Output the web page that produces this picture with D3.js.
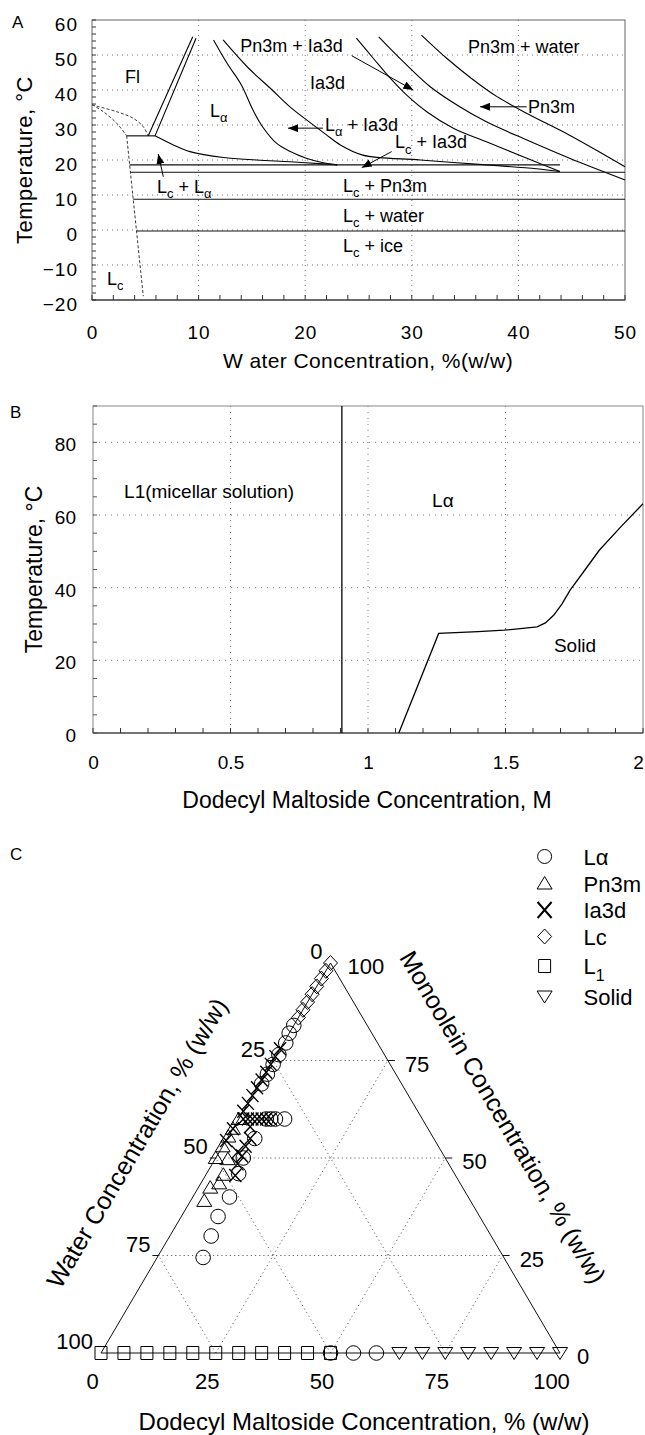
<!DOCTYPE html>
<html><head><meta charset="utf-8">
<script src="https://cdn.jsdelivr.net/npm/d3@7"></script>
<style>
body{margin:0;background:#fff;}
svg{display:block;font-family:"Liberation Sans",Arial,Helvetica,sans-serif;}
</style></head><body>
<svg id="chart" width="645" height="1435"></svg>
<script>
// ================= DATA =================
// ---- Panel A: monoolein / water phase diagram ----
const aXTicks = [0,10,20,30,40,50];
const aYTicks = [60,50,40,30,20,10,0,-10,-20];
const aGridX = [10,20,30,40];
const aGridY = [50,40,30,20,10,0,-10];
const aDashUpper = [[0,35.8],[0.44,35.4],[2.32,33.8],[3.88,31.9],[4.81,29.5],[5.28,26.9]];
const aDashLower = [[0,35.8],[1.06,33.8],[2.32,30.5],[3.25,26.9]];
const aDashLc = [[3.25,26.9],[4.81,-18.9]];
const aFlLeft = [[5.28,26.9],[9.45,55.2]];
const aFlRight = [[5.91,26.9],[9.76,54.8]];
const aLcPlateau = [[3.25,26.9],[5.91,26.9]];
const aLcLaTop = [[5.91,26.9],[7.63,24.3],[9.19,22.4],[12.32,20.7],[15.45,20.0],[18.57,19.5],[21.7,18.9],[23.0,18.6]];
const aCurve1 = [[11.4,54.3],[12.7,47.5],[14.0,41.5],[15.1,34.3],[16.0,29.5],[17.3,24.8],[18.6,22.4],[20.1,20.5],[21.7,19.2],[23.0,18.6]];
const aCurve2 = [[12.3,54.3],[14.6,46.5],[16.9,40.0],[18.6,35.1],[20.5,30.6],[21.9,27.4],[23.3,24.3],[25.4,21.4],[30.8,20.0],[37.0,18.6],[41.7,17.5],[43.9,16.7]];
const aCurve3 = [[24.8,54.8],[26.4,49.0],[28.0,43.3],[29.5,38.6],[31.4,33.8],[33.9,29.1],[37.0,25.2],[40.8,20.5],[43.9,16.7]];
const aCurve4 = [[26.9,55.2],[29.2,48.1],[31.7,41.0],[34.5,35.2],[37.0,30.9],[40.8,25.7],[44.8,20.5],[50.0,14.3]];
const aCurve5 = [[30.9,55.7],[33.3,49.0],[35.6,43.3],[38.0,38.1],[40.8,33.3],[44.8,27.1],[50.0,18.1]];
const aHLineT = [18.6,16.5,8.8,-0.3];
const aHLineFrom = [3.53,3.60,3.87,4.18];
const aHLineTo = [43.9,50,50,50];
const aLabelText = ["Fl","L_α","Pn3m + Ia3d","Ia3d","Pn3m + water","Pn3m","L_α + Ia3d","L_c + Ia3d","L_c + L_α","L_c + Pn3m","L_c + water","L_c + ice","L_c"];
const aLabelX = [3.1,11.07,13.9,20.45,35.27,40.9,21.86,28.42,6.1,23.55,23.55,23.55,1.4];
const aLabelT = [42,32.3,50.9,40.3,50.6,33.4,28.3,23.4,10.6,10.9,2.3,-6.3,-15.7];
const aArrowFrom = [[24.36,49.8],[40.78,35.2],[21.67,29.1],[28.11,22.4],[6.69,15.2]];
const aArrowTo   = [[30.14,40.0],[36.4,35.2],[18.39,29.1],[25.3,17.8],[6.22,21.7]];

// ---- Panel B: dodecyl maltoside / water ----
const bXTicks = [0,0.5,1,1.5,2];
const bXTickLabels = ["0","0.5","1","1.5","2"];
const bYTicks = [0,20,40,60,80];
const bGridX = [0.5,1,1.5];
const bGridY = [20,40,60,80];
const bMicelleBoundary = [[0.905,0],[0.905,90]];
const bSolidBoundary = [[1.112,0],[1.257,27.4],[1.40,27.9],[1.495,28.3],[1.615,29.2],[1.645,30.3],[1.675,32.4],[1.705,35.5],[1.735,39.3],[1.79,45.0],[1.841,50.3],[1.92,56.8],[2.0,63.1]];
const bLabelText = ["L1(micellar solution)","Lα","Solid"];
const bLabelX = [0.113,1.233,1.676];
const bLabelT = [64.8,62.1,22.3];

// ---- Panel C: ternary (water %, dodecyl maltoside %) ; monoolein = 100 - water - DM ----
const tTicks = [0,25,50,75,100];
const lcWater = [0,2,4,6,8,10,12,14];
const lcDM    = [0,0,0,0,0,0,0,0];
const laWater = [16,18,20,23,25.5,28,30.5,34,33,32,30,39,44,47,52,57,61,65.5,50,45,40];
const laDM    = [0,0,0.5,0.5,0.5,0.5,0.5,6,7,8,10,6,6,7,8,8,9,10,50,55,60];
const pnWater = [40,42.5,44.5,47,50,47.5,50.5,52.5,55,58];
const pnDM    = [0,0,0,0,0,2.8,3.8,4,2.6,3];
const iaWater = [22,24,26,28,30,32,34,36,38,42.5,45.5,39,38,37,36,35,34,33,38.5,40,42,44,44.5,46,48];
const iaDM    = [0,0,0,0,0,0,0,0,0,0,0,1,2,3,4,5,6,7,3.5,5,5,5.5,4,5.5,6.5];
const l1Water = [100,95,90,85,80,75,70,65,60,55,50];
const l1DM    = [0,5,10,15,20,25,30,35,40,45,50];
const solidWater = [35,30,25,20,15,10,5,0];
const solidDM    = [65,70,75,80,85,90,95,100];
const legendNames = ["Lα","Pn3m","Ia3d","Lc","L_1","Solid"];
const legendShapes = ["circle","triUp","cross","diamond","square","triDown"];

// ================= DRAWING =================
const svg = d3.select('#chart');
const defs = svg.append('defs');
defs.append('marker').attr('id','ah').attr('viewBox','0 0 10 8').attr('refX',10).attr('refY',4)
  .attr('markerWidth',10).attr('markerHeight',8).attr('markerUnits','userSpaceOnUse').attr('orient','auto')
  .append('path').attr('d','M0,0L10,4L0,8Z').attr('fill','#000');

function richText(sel, str, size){
  const parts = str.split(/(_.)/);
  let sub = false;
  parts.forEach(p=>{
    if(!p) return;
    if(p[0]==='_'){ sel.append('tspan').attr('font-size',size*0.72).attr('dy',size*0.3).text(p.slice(1)); sub=true; }
    else { const t = sel.append('tspan').text(p); if(sub){ t.attr('dy',-size*0.3); sub=false; } }
  });
}

// ---------- Panel A ----------
const ax = d3.scaleLinear().domain([0,50]).range([92,625]);
const ay = d3.scaleLinear().domain([-20,60]).range([300,20]);
const gA = svg.append('g');
gA.selectAll('line.gx').data(aGridX).join('line').attr('class','gx')
  .attr('x1',d=>ax(d)).attr('x2',d=>ax(d)).attr('y1',ay(60)).attr('y2',ay(-20))
  .attr('stroke','#777').attr('stroke-dasharray','1,4');
gA.selectAll('line.gy').data(aGridY).join('line').attr('class','gy')
  .attr('y1',d=>ay(d)).attr('y2',d=>ay(d)).attr('x1',ax(0)).attr('x2',ax(50))
  .attr('stroke','#777').attr('stroke-dasharray','1,4');
gA.append('rect').attr('x',ax(0)).attr('y',ay(60)).attr('width',ax(50)-ax(0)).attr('height',ay(-20)-ay(60))
  .attr('fill','none').attr('stroke','#666');
gA.append('line').attr('x1',ax(0)).attr('x2',ax(50)).attr('y1',ay(-20)).attr('y2',ay(-20)).attr('stroke','#222');
gA.selectAll('line.mx').data(d3.range(0,50.01,2)).join('line').attr('class','mx')
  .attr('x1',d=>ax(d)).attr('x2',d=>ax(d)).attr('y1',ay(-20)).attr('y2',ay(-20)-5).attr('stroke','#333');
gA.selectAll('line.my').data(d3.range(-20,60.01,2)).join('line').attr('class','my')
  .attr('y1',d=>ay(d)).attr('y2',d=>ay(d)).attr('x1',ax(0)).attr('x2',ax(0)+4).attr('stroke','#333');
const axA = gA.append('g').attr('transform',`translate(0,${ay(-20)})`)
  .call(d3.axisBottom(ax).tickValues(aXTicks).tickSize(0).tickPadding(26).tickFormat(d3.format('d')));
const ayA = gA.append('g').attr('transform',`translate(${ax(0)},0)`)
  .call(d3.axisLeft(ay).tickValues(aYTicks).tickSize(0).tickPadding(14).tickFormat(d3.format('d')));
[axA,ayA].forEach(g=>{ g.select('.domain').remove(); g.selectAll('text').attr('font-size',19).attr('letter-spacing',1).attr('font-family','"Liberation Sans",Arial,sans-serif').attr('fill','#000'); });
ayA.selectAll('text').attr('dy','0.55em');

const lineA = d3.line().x(d=>ax(d[0])).y(d=>ay(d[1]));
const curveA = d3.line().x(d=>ax(d[0])).y(d=>ay(d[1])).curve(d3.curveCatmullRom.alpha(0.5));
[aDashUpper,aDashLower].forEach(c=>gA.append('path').attr('d',curveA(c)).attr('fill','none').attr('stroke','#222').attr('stroke-width',0.9).attr('stroke-dasharray','3,2'));
gA.append('path').attr('d',lineA(aDashLc)).attr('fill','none').attr('stroke','#222').attr('stroke-width',0.9).attr('stroke-dasharray','3,2');
[aFlLeft,aFlRight,aLcPlateau].forEach(c=>gA.append('path').attr('d',lineA(c)).attr('fill','none').attr('stroke','#000').attr('stroke-width',1.1));
[aLcLaTop,aCurve1,aCurve2,aCurve3,aCurve4,aCurve5].forEach(c=>gA.append('path').attr('d',curveA(c)).attr('fill','none').attr('stroke','#000').attr('stroke-width',1.1));
gA.selectAll('line.hl').data(aHLineT).join('line').attr('class','hl')
  .attr('x1',(d,i)=>ax(aHLineFrom[i])).attr('x2',(d,i)=>ax(aHLineTo[i]))
  .attr('y1',d=>ay(d)).attr('y2',d=>ay(d)).attr('stroke','#111').attr('stroke-width',1.1);
aArrowFrom.forEach((f,i)=>{
  gA.append('line').attr('x1',ax(f[0])).attr('y1',ay(f[1])).attr('x2',ax(aArrowTo[i][0])).attr('y2',ay(aArrowTo[i][1]))
    .attr('stroke','#000').attr('stroke-width',1).attr('marker-end','url(#ah)');
});
aLabelText.forEach((s,i)=>{
  const t = gA.append('text').attr('x',ax(aLabelX[i])).attr('y',ay(aLabelT[i])).attr('font-size',18).attr('fill','#000');
  richText(t,s,18);
});
gA.append('text').attr('x',12).attr('y',28).attr('font-size',17).text('A');
gA.append('text').attr('transform',`translate(24,${(ay(60)+ay(-20))/2}) rotate(-90)`).attr('text-anchor','middle').attr('dy','0.35em')
  .attr('font-size',22).attr('letter-spacing',0.5).text('Temperature, °C');
gA.append('text').attr('x',368).attr('y',368).attr('text-anchor','middle').attr('font-size',21).attr('letter-spacing',0.4)
  .text('W ater Concentration, %(w/w)');

// ---------- Panel B ----------
const bx = d3.scaleLinear().domain([0,2]).range([93,643]);
const by = d3.scaleLinear().domain([0,90]).range([733,406]);
const gB = svg.append('g');
gB.selectAll('line.gx').data(bGridX).join('line').attr('class','gx')
  .attr('x1',d=>bx(d)).attr('x2',d=>bx(d)).attr('y1',by(90)).attr('y2',by(0))
  .attr('stroke','#777').attr('stroke-dasharray','1,5');
gB.selectAll('line.gy').data(bGridY).join('line').attr('class','gy')
  .attr('y1',d=>by(d)).attr('y2',d=>by(d)).attr('x1',bx(0)).attr('x2',bx(2))
  .attr('stroke','#777').attr('stroke-dasharray','1,5');
gB.append('rect').attr('x',bx(0)).attr('y',by(90)).attr('width',bx(2)-bx(0)).attr('height',by(0)-by(90))
  .attr('fill','none').attr('stroke','#888');
gB.append('line').attr('x1',bx(0)).attr('x2',bx(2)).attr('y1',by(0)).attr('y2',by(0)).attr('stroke','#222');
gB.selectAll('line.mx').data(d3.range(0,2.001,0.1)).join('line').attr('class','mx')
  .attr('x1',d=>bx(d)).attr('x2',d=>bx(d)).attr('y1',by(0)).attr('y2',by(0)-5).attr('stroke','#333');
gB.selectAll('line.my').data(d3.range(0,90.01,5)).join('line').attr('class','my')
  .attr('y1',d=>by(d)).attr('y2',d=>by(d)).attr('x1',bx(0)).attr('x2',bx(0)+4).attr('stroke','#555');
const axB = gB.append('g').attr('transform',`translate(0,${by(0)})`)
  .call(d3.axisBottom(bx).tickValues(bXTicks).tickSize(0).tickPadding(23).tickFormat((d,i)=>bXTickLabels[i]));
const ayB = gB.append('g').attr('transform',`translate(${bx(0)},0)`)
  .call(d3.axisLeft(by).tickValues(bYTicks).tickSize(0).tickPadding(17).tickFormat(d3.format('d')));
[axB,ayB].forEach(g=>{ g.select('.domain').remove(); g.selectAll('text').attr('font-size',19).attr('font-family','"Liberation Sans",Arial,sans-serif').attr('fill','#000'); });
ayB.selectAll('text').attr('dy','0.45em');
axB.selectAll('text').filter(d=>d===2).attr('dx',-5);
const lineB = d3.line().x(d=>bx(d[0])).y(d=>by(d[1]));
gB.append('path').attr('d',lineB(bMicelleBoundary)).attr('fill','none').attr('stroke','#000').attr('stroke-width',1.3);
gB.append('path').attr('d',lineB(bSolidBoundary)).attr('fill','none').attr('stroke','#000').attr('stroke-width',1.3);
bLabelText.forEach((s,i)=>gB.append('text').attr('x',bx(bLabelX[i])).attr('y',by(bLabelT[i])).attr('font-size',19).text(s));
gB.append('text').attr('x',10).attr('y',418).attr('font-size',17).text('B');
gB.append('text').attr('transform',`translate(34,${(by(90)+by(0))/2}) rotate(-90)`).attr('text-anchor','middle').attr('dy','0.35em')
  .attr('font-size',23).text('Temperature, °C');
gB.append('text').attr('x',367).attr('y',808).attr('text-anchor','middle').attr('font-size',23)
  .text('Dodecyl Maltoside Concentration, M');

// ---------- Panel C (ternary) ----------
const tY  = d3.scaleLinear().domain([0,100]).range([1353,963]);   // monoolein -> y
const tXd = d3.scaleLinear().domain([0,100]).range([101,560]);    // DM along base
const tXm = d3.scaleLinear().domain([0,100]).range([0,229.5]);    // shift by monoolein
function tPos(w,d){ const m = 100-w-d; return [tXd(d)+tXm(m), tY(m)]; }
const gC = svg.append('g');
const dotted = {stroke:'#666','stroke-dasharray':'1.2,3','stroke-width':1};
function seg(g,a,b,st){ const l=g.append('line').attr('x1',a[0]).attr('y1',a[1]).attr('x2',b[0]).attr('y2',b[1]); Object.entries(st).forEach(([k,v])=>l.attr(k,v)); return l; }
[25,50,75].forEach(k=>{
  seg(gC,tPos(100-k,0),tPos(0,100-k),dotted);
  seg(gC,tPos(100-k,k),tPos(0,k),dotted);
  seg(gC,tPos(k,100-k),tPos(k,0),dotted);
});
const tri = [tPos(100,0),tPos(0,100),tPos(0,0)];
gC.append('path').attr('d','M'+tri.map(p=>p.join(',')).join('L')+'Z').attr('fill','none').attr('stroke','#111').attr('stroke-width',1);
[25,50,75].forEach(k=>{
  const r = tPos(0,100-k); seg(gC,r,[r[0]+7,r[1]],{stroke:'#111'});
  const l = tPos(k,0); seg(gC,l,[l[0]-6,l[1]],{stroke:'#111'});
});
// tick labels
tTicks.forEach(k=>{
  const l = tPos(k,0);
  gC.append('text').attr('x',l[0]-8).attr('y',l[1]-4).attr('text-anchor','end').attr('font-size',22).text(k);
  const r = tPos(0,100-k);
  gC.append('text').attr('x',r[0]+17).attr('y',r[1]+11).attr('font-size',22).text(k);
  const b = tPos(100-k,k);
  gC.append('text').attr('x',b[0]-8.5).attr('y',1389).attr('text-anchor','middle').attr('font-size',22).text(k);
});
gC.append('text').attr('x',364).attr('y',1430).attr('text-anchor','middle').attr('font-size',24)
  .text('Dodecyl Maltoside Concentration, % (w/w)');
gC.append('text').attr('transform','translate(137,1143) rotate(-59.5)').attr('text-anchor','middle').attr('dy','0.35em')
  .attr('font-size',25).text('Water Concentration, % (w/w)');
gC.append('text').attr('transform','translate(503,1117) rotate(59.5)').attr('text-anchor','middle').attr('dy','0.35em')
  .attr('font-size',25).text('Monoolein Concentration, % (w/w)');
gC.append('text').attr('x',10).attr('y',860).attr('font-size',17).text('C');

const shapePath = {
  square:'M-6,-6.5H6V6.5H-6Z',
  triUp:'M0,-7L7.5,5.5H-7.5Z',
  triDown:'M-7.5,-5.5H7.5L0,6.5Z',
  diamond:'M0,-7.5L7,0L0,7.5L-7,0Z',
  cross:'M-6,-6.5L6,6.5M6,-6.5L-6,6.5'
};
function drawMarkers(water, dm, shape){
  const pts = water.map((w,i)=>tPos(w,dm[i]));
  if(shape==='circle'){
    gC.selectAll(null).data(pts).join('circle').attr('cx',d=>d[0]).attr('cy',d=>d[1]).attr('r',7.3)
      .attr('fill','none').attr('stroke','#000').attr('stroke-width',1);
  } else {
    gC.selectAll(null).data(pts).join('path').attr('transform',d=>`translate(${d[0]},${d[1]})`).attr('d',shapePath[shape])
      .attr('fill','none').attr('stroke','#000').attr('stroke-width',shape==='cross'?1.4:1);
  }
}
drawMarkers(l1Water,l1DM,'square');
drawMarkers(solidWater,solidDM,'triDown');
drawMarkers(lcWater,lcDM,'diamond');
drawMarkers(pnWater,pnDM,'triUp');
drawMarkers(laWater,laDM,'circle');
drawMarkers(iaWater,iaDM,'cross');

// legend
const legY = [856.5,883.5,910,936.5,966,996.5];
legendNames.forEach((n,i)=>{
  const y = legY[i], x = 544.6, s = legendShapes[i];
  if(s==='circle') gC.append('circle').attr('cx',x).attr('cy',y).attr('r',7).attr('fill','none').attr('stroke','#000');
  else gC.append('path').attr('transform',`translate(${x},${y})`).attr('d',s==='cross'?'M-7,-8L7,8M7,-8L-7,8':shapePath[s])
    .attr('fill','none').attr('stroke','#000').attr('stroke-width',s==='cross'?2:1);
  const t = gC.append('text').attr('x',583.5).attr('y',y+8).attr('font-size',22);
  richText(t,n,22);
});
</script>
</body></html>
